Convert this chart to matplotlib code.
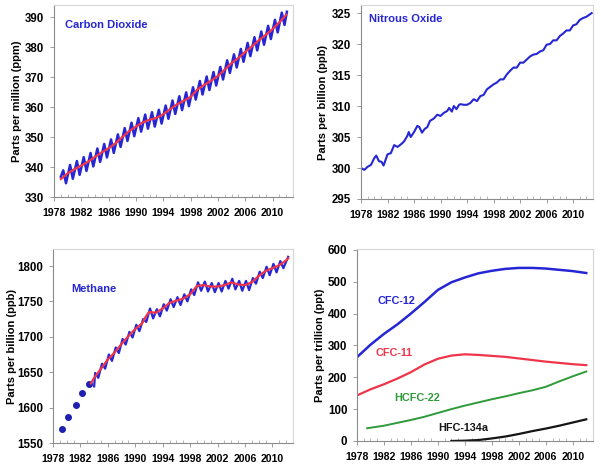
import matplotlib
matplotlib.use("Agg")
import matplotlib.pyplot as plt
from matplotlib.ticker import MultipleLocator
import numpy as np

plt.rcParams['font.family'] = ['Liberation Sans', 'DejaVu Sans']
plt.rcParams['font.weight'] = 'bold'

BLUE = '#2626d4'
RED = '#f0354a'
GREEN = '#2f9a3a'

# ---- carbon dioxide (ppm) ----
co2_trend_years = list(range(1979, 2013))
co2_trend = [336.0, 337.9, 339.3, 340.5, 341.8, 343.4, 344.9, 346.3, 347.9, 350.0,
             352.0, 353.5, 354.9, 355.8, 356.4, 357.6, 359.3, 360.9, 362.1, 363.4,
             365.9, 367.4, 368.8, 370.4, 372.5, 374.7, 376.4, 378.4, 380.3, 382.3,
             384.1, 386.0, 388.3, 390.8]
co2_cycle_years = list(range(1979, 2012))
co2_peak = [338.9, 340.7, 342.0, 343.3, 344.7, 346.2, 347.7, 349.2, 350.9, 353.0,
            354.8, 356.3, 357.5, 358.3, 359.1, 360.5, 362.2, 363.6, 364.9, 366.6,
            368.7, 370.2, 371.7, 373.4, 375.6, 377.6, 379.4, 381.4, 383.3, 385.2,
            387.1, 389.1, 391.5]
co2_trough = [334.6, 336.1, 337.4, 338.7, 340.2, 341.7, 343.2, 344.7, 346.7, 348.7,
              350.3, 351.8, 352.8, 353.5, 354.5, 356.1, 357.7, 359.0, 360.3, 362.5,
              364.2, 365.7, 367.2, 369.2, 371.4, 373.2, 375.1, 377.0, 378.9, 380.8,
              382.7, 384.9, 387.4]
co2_first, co2_last = 336.8, 391.8

# ---- nitrous oxide (ppb) ----
n2o_years = [1978.0, 1978.5, 1979.0, 1979.5, 1980.0, 1980.3, 1980.7, 1981.1, 1981.4, 1982.0,
             1982.5, 1983.0, 1983.5, 1984.0, 1984.5, 1985.0, 1985.2, 1985.5, 1986.0, 1986.5,
             1986.8, 1987.2, 1987.6, 1988.0, 1988.4, 1989.0, 1989.5, 1990.0, 1990.5, 1991.0,
             1991.3, 1991.7, 1992.0, 1992.4, 1992.8, 1993.0, 1993.5, 1994.0, 1994.5, 1995.0,
             1995.5, 1996.0, 1996.5, 1997.0, 1997.5, 1998.0, 1998.5, 1999.0, 1999.5, 2000.0,
             2000.5, 2001.0, 2001.5, 2002.0, 2002.5, 2003.0, 2003.5, 2004.0, 2004.5, 2005.0,
             2005.5, 2006.0, 2006.5, 2007.0, 2007.5, 2008.0, 2008.5, 2009.0, 2009.5, 2010.0,
             2010.5, 2011.0, 2011.5, 2012.0, 2012.8]
n2o = [300.0, 299.7, 300.2, 300.5, 301.6, 302.0, 301.1, 301.0, 300.4, 302.2,
       302.4, 303.7, 303.4, 303.8, 304.3, 305.2, 305.8, 305.0, 305.8, 306.8,
       306.6, 305.7, 306.3, 306.6, 307.6, 308.0, 308.6, 308.4, 308.9, 309.2,
       309.7, 309.1, 310.0, 309.5, 310.2, 310.3, 310.2, 310.2, 310.5, 311.1,
       310.8, 311.6, 311.8, 312.7, 313.1, 313.5, 313.8, 314.3, 314.3, 315.1,
       315.7, 316.2, 316.2, 317.0, 317.0, 317.5, 318.0, 318.3, 318.4, 318.8,
       319.0, 319.9, 320.0, 320.6, 320.6, 321.3, 321.7, 322.2, 322.2, 323.0,
       323.2, 323.9, 324.2, 324.4, 325.0]

# ---- methane (ppb) ----
ch4_flask_years = [1979.25, 1980.2, 1981.3, 1982.3, 1983.3]
ch4_flask = [1570, 1587, 1604, 1621, 1633]
ch4_trend_years = [1983.5, 1984, 1985, 1986, 1987, 1988, 1989, 1990, 1991, 1991.5,
                   1992, 1993, 1994, 1995, 1996, 1997, 1998, 1999, 2000, 2001,
                   2002, 2003, 2004, 2005, 2006, 2007, 2008, 2009, 2010, 2011,
                   2012, 2012.3]
ch4_trend = [1634, 1642, 1655, 1668, 1678, 1690, 1701, 1711, 1719, 1728,
             1735, 1734, 1740, 1748, 1751, 1754, 1760, 1772, 1773, 1771,
             1771, 1773, 1777, 1774, 1773, 1777, 1786, 1793, 1797, 1801,
             1808, 1811]
ch4_cycle_years = list(range(1984, 2012))
ch4_peak = [1649, 1662, 1675, 1685, 1697, 1707, 1717, 1725, 1740, 1739,
            1746, 1753, 1756, 1760, 1767, 1777, 1778, 1776, 1776, 1779,
            1782, 1779, 1779, 1783, 1792, 1799, 1803, 1807]
ch4_trough = [1642, 1655, 1666, 1677, 1689, 1699, 1708, 1721, 1726, 1729,
              1737, 1742, 1745, 1750, 1759, 1765, 1764, 1763, 1764, 1768,
              1767, 1765, 1766, 1775, 1783, 1787, 1791, 1797]
ch4_first, ch4_last = 1630, 1813

# ---- halocarbons (ppt) ----
halo_years = [1978, 1980, 1982, 1984, 1986, 1988, 1990, 1992, 1994, 1996,
              1998, 2000, 2002, 2004, 2006, 2008, 2010, 2012]
cfc12 = [263, 302, 336, 366, 400, 436, 474, 498, 513, 526,
         534, 540, 543, 543, 541, 537, 533, 527]
cfc11 = [143, 162, 178, 196, 216, 240, 258, 268, 272, 270,
         267, 264, 259, 254, 249, 245, 241, 238]
hcfc22_years = [1979.5, 1982, 1984, 1986, 1988, 1990, 1992, 1994, 1996, 1998,
                2000, 2002, 2004, 2006, 2008, 2010, 2012]
hcfc22 = [40, 48, 57, 66, 76, 88, 100, 111, 121, 131,
          140, 150, 159, 170, 187, 203, 218]
hfc134a_years = [1992, 1994, 1996, 1998, 2000, 2002, 2004, 2006, 2008, 2010, 2012]
hfc134a = [0, 1, 3, 8, 14, 22, 31, 39, 48, 58, 68]

year_ticks = list(range(1978, 2011, 4))


def seasonal(first, years, peak, trough, last, end_year, p_off, t_off):
    xs, ys = [years[0]], [first]
    for y, p, t in zip(years, peak, trough):
        xs += [y + p_off, y + t_off]
        ys += [p, t]
    xs.append(end_year)
    ys.append(last)
    return xs, ys


def style(ax, ylim, yticks, ylabel, label_x):
    ax.set_xlim(1978, 2013)
    ax.set_ylim(*ylim)
    ax.set_xticks(year_ticks)
    ax.set_yticks(yticks)
    ax.xaxis.set_minor_locator(MultipleLocator(1))
    ax.set_ylabel(ylabel, fontsize=8, fontweight='bold')
    ax.yaxis.set_label_coords(label_x, 0.5)
    ax.tick_params(length=3, width=0.6, color='#8a8a8a')
    ax.tick_params(axis='x', labelsize=7.6, pad=5)
    ax.tick_params(axis='y', labelsize=8.3, pad=4)
    ax.tick_params(which='minor', direction='in', length=2, width=0.5, color='#9a9a9a')
    for s in ['left', 'bottom']:
        ax.spines[s].set_color('#8c8c8c')
        ax.spines[s].set_linewidth(0.8)
    for s in ['top', 'right']:
        ax.spines[s].set_color('#d6d6d6')
        ax.spines[s].set_linewidth(0.8)
    for lab in ax.get_xticklabels() + ax.get_yticklabels():
        lab.set_fontweight('bold')


fig = plt.figure(figsize=(6.01, 4.68), dpi=100)

# carbon dioxide
ax1 = fig.add_axes([0.0899, 0.579, 0.3977, 0.410])
x, y = seasonal(co2_first, co2_cycle_years, co2_peak, co2_trough, co2_last, 2012.1, 0.35, 0.75)
ax1.plot(x, y, color=BLUE, lw=1.8)
ax1.plot(co2_trend_years, co2_trend, color=RED, lw=1.6)
style(ax1, (330, 394), range(330, 391, 10), 'Parts per million (ppm)', -0.134)
ax1.text(0.045, 0.88, 'Carbon Dioxide', transform=ax1.transAxes, color=BLUE,
         fontsize=8, fontweight='bold')

# nitrous oxide
ax2 = fig.add_axes([0.6007, 0.5748, 0.386, 0.4145])
ax2.plot(n2o_years, n2o, color=BLUE, lw=1.5)
style(ax2, (295, 326.3), range(295, 326, 5), 'Parts per billion (ppb)', -0.142)
ax2.text(0.035, 0.91, 'Nitrous Oxide', transform=ax2.transAxes, color=BLUE,
         fontsize=8, fontweight='bold')

# methane
ax3 = fig.add_axes([0.0882, 0.0534, 0.3993, 0.4145])
x, y = seasonal(ch4_first, ch4_cycle_years, ch4_peak, ch4_trough, ch4_last, 2012.3, 0.15, 0.6)
ax3.plot(ch4_flask_years, ch4_flask, 'o', color='#1f1fb0', ms=4)
ax3.plot(x, y, color=BLUE, lw=1.6)
ax3.plot(ch4_trend_years, ch4_trend, color=RED, lw=1.6)
style(ax3, (1550, 1824), range(1550, 1801, 50), 'Parts per billion (ppb)', -0.15)
ax3.text(0.075, 0.78, 'Methane', transform=ax3.transAxes, color=BLUE,
         fontsize=8, fontweight='bold')

# halocarbons
ax4 = fig.add_axes([0.594, 0.0577, 0.3927, 0.410])
ax4.plot(halo_years, cfc12, color=BLUE, lw=1.8)
ax4.plot(halo_years, cfc11, color=RED, lw=1.6)
ax4.plot(hcfc22_years, hcfc22, color=GREEN, lw=1.4)
ax4.plot(hfc134a_years, hfc134a, color='#151515', lw=1.6)
style(ax4, (0, 602), range(0, 601, 100), 'Parts per trillion (ppt)', -0.136)
ax4.text(1981.0, 430, 'CFC-12', color=BLUE, fontsize=7.8, fontweight='bold')
ax4.text(1980.7, 266, 'CFC-11', color=RED, fontsize=7.8, fontweight='bold')
ax4.text(1983.5, 125, 'HCFC-22', color=GREEN, fontsize=7.8, fontweight='bold')
ax4.text(1990.0, 31, 'HFC-134a', color='#151515', fontsize=7.8, fontweight='bold')

fig.savefig('out.png', dpi=100)
